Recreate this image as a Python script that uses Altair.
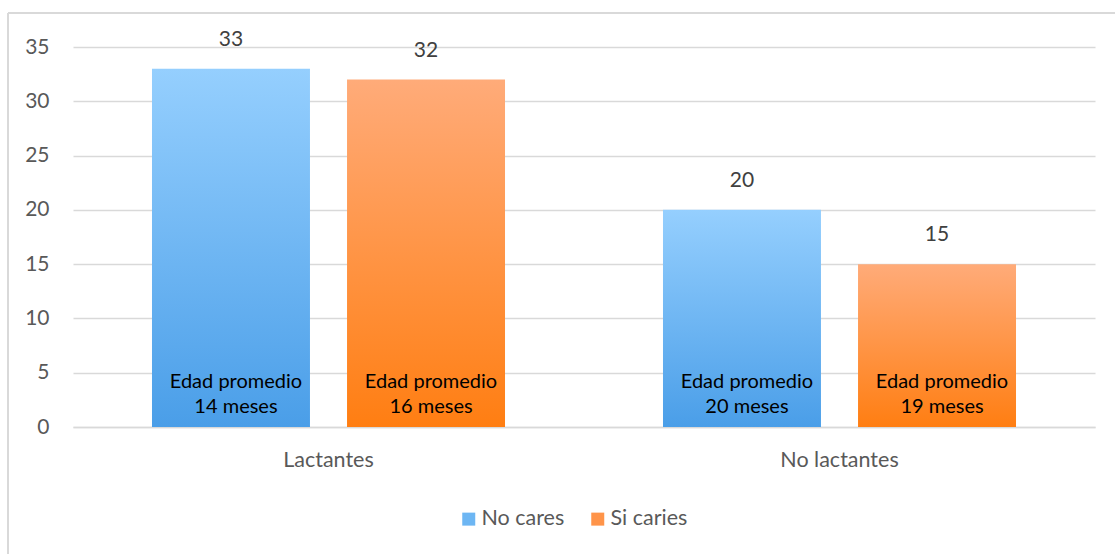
import altair as alt
import pandas as pd

# Children by breastfeeding status and caries presence, with mean age per bar
grupos = ["Lactantes", "Lactantes", "No lactantes", "No lactantes"]
series = ["No cares", "Si caries", "No cares", "Si caries"]
valores = [33, 32, 20, 15]
edades = [14, 16, 20, 19]

orden_series = ["No cares", "Si caries"]
colores_legenda = ["#6DB6F3", "#FF9449"]
y_ticks = [0, 5, 10, 15, 20, 25, 30, 35]

df = pd.DataFrame({"grupo": grupos, "serie": series, "valor": valores, "edad": edades})
df["etiqueta"] = "Edad promedio\n" + df["edad"].astype(str) + " meses"

FONT = "Lato"
GRID = "#D9D9D9"

base = alt.Chart(df).encode(
    x=alt.X(
        "grupo:N",
        scale=alt.Scale(paddingInner=0, paddingOuter=0),
        axis=alt.Axis(
            title=None, labelAngle=0, ticks=False, domain=True, domainColor=GRID,
            domainWidth=1.5, labelFont=FONT, labelFontSize=21.5, labelColor="#595959",
            labelPadding=22, grid=False,
        ),
    ),
    xOffset=alt.XOffset(
        "serie:N", sort=orden_series,
        scale=alt.Scale(paddingInner=0.19, paddingOuter=0.405),
    ),
)

y_enc = alt.Y(
    "valor:Q",
    scale=alt.Scale(domain=[0, 35], nice=False),
    axis=alt.Axis(
        title=None, values=y_ticks, grid=True, gridColor=GRID, gridWidth=1.5,
        domain=False, ticks=False, labelFont=FONT, labelFontSize=21,
        labelColor="#595959", labelPadding=24,
    ),
)

# invisible bars that only feed the legend
legend_bars = base.mark_bar(opacity=0).encode(
    y=y_enc,
    color=alt.Color(
        "serie:N",
        scale=alt.Scale(domain=orden_series, range=colores_legenda),
        legend=alt.Legend(
            orient="none", legendX=385, legendY=461, direction="horizontal",
            title=None, symbolType="square", symbolSize=169, symbolOpacity=1,
            symbolStrokeWidth=0, labelFont=FONT, labelFontSize=21.5,
            labelColor="#595959", labelOffset=2, columnPadding=22, padding=0,
        ),
    ),
)


def gradiente(top, bottom):
    return alt.Gradient(
        gradient="linear",
        stops=[alt.GradientStop(color=top, offset=0), alt.GradientStop(color=bottom, offset=1)],
        x1=0, x2=0, y1=0, y2=1,
    )


bars_blue = base.transform_filter(alt.datum.serie == "No cares").mark_bar(
    fill=gradiente("#95CFFE", "#4A9EE8")
).encode(y=y_enc)

bars_orange = base.transform_filter(alt.datum.serie == "Si caries").mark_bar(
    fill=gradiente("#FFAB79", "#FF7E12")
).encode(y=y_enc)

valor_labels = base.mark_text(
    font=FONT, fontSize=21, color="#404040", baseline="middle", dy=-29
).encode(y="valor:Q", text="valor:Q")

edad_labels = base.mark_text(
    font=FONT, fontSize=20, color="#000000", baseline="bottom", lineBreak="\n",
    lineHeight=25, dx=5, dy=-35,
).encode(y=alt.datum(0), text="etiqueta:N")

# light frame around the chart
frame_top = alt.Chart(df).mark_rule(color=GRID, strokeWidth=1.5).encode(
    x=alt.value(-65), x2=alt.value(1060), y=alt.value(-34)
)
frame_left = alt.Chart(df).mark_rule(color=GRID, strokeWidth=1.5).encode(
    x=alt.value(-65), y=alt.value(-34), y2=alt.value(520)
)

chart = alt.layer(
    legend_bars, bars_blue, bars_orange, valor_labels, edad_labels, frame_top, frame_left
).properties(
    width=1022,
    height=380,
    autosize=alt.AutoSizeParams(type="none"),
    padding={"left": 73, "top": 47, "right": 20, "bottom": 127},
    background="white",
).configure_view(stroke=None)

chart.save("out.html", embed_options={"renderer": "svg", "actions": False})
